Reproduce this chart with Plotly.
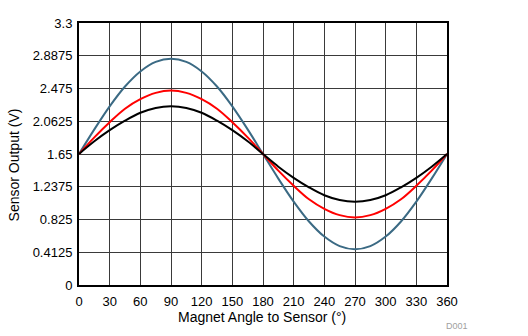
import plotly.graph_objects as go

angles = [0, 15, 30, 45, 60, 75, 90, 105, 120, 135, 150, 165, 180,
          195, 210, 225, 240, 255, 270, 285, 300, 315, 330, 345, 360]
blue_vals = [1.65, 1.96, 2.25, 2.50, 2.69, 2.81, 2.85, 2.81, 2.69, 2.50, 2.25, 1.96, 1.65,
             1.34, 1.05, 0.80, 0.61, 0.49, 0.45, 0.49, 0.61, 0.80, 1.05, 1.34, 1.65]
red_vals = [1.65, 1.86, 2.05, 2.22, 2.34, 2.42, 2.45, 2.42, 2.34, 2.22, 2.05, 1.86, 1.65,
            1.44, 1.25, 1.08, 0.96, 0.88, 0.85, 0.88, 0.96, 1.08, 1.25, 1.44, 1.65]
black_vals = [1.65, 1.81, 1.95, 2.07, 2.17, 2.23, 2.25, 2.23, 2.17, 2.07, 1.95, 1.81, 1.65,
              1.49, 1.35, 1.23, 1.13, 1.07, 1.05, 1.07, 1.13, 1.23, 1.35, 1.49, 1.65]
x_ticks = list(range(0, 361, 30))
y_ticks = [0, 0.4125, 0.825, 1.2375, 1.65, 2.0625, 2.475, 2.8875, 3.3]
y_tick_labels = ["0", "0.4125", "0.825", "1.2375", "1.65", "2.0625", "2.475", "2.8875", "3.3"]

fig = go.Figure()
for vals, col in [(blue_vals, "#3b6a84"), (red_vals, "#ff0000"), (black_vals, "#000000")]:
    fig.add_trace(go.Scatter(x=angles, y=vals, mode="lines",
                             line=dict(color=col, width=2, shape="spline"),
                             showlegend=False))

fam = "Liberation Sans, Arial, sans-serif"
tick_font = dict(family=fam, size=13, color="#000000")
title_font = dict(family=fam, size=14, color="#000000")
fig.update_layout(
    width=528, height=336,
    margin=dict(l=79, r=81, t=23, b=51),
    paper_bgcolor="white", plot_bgcolor="white",
    font=tick_font,
    xaxis=dict(range=[0, 360], tickvals=x_ticks, ticktext=[str(t) for t in x_ticks],
               showgrid=True, gridcolor="#3a3a3a", gridwidth=1,
               showline=True, linecolor="black", linewidth=2, mirror=True,
               ticks="", zeroline=False, tickfont=tick_font, ticklabelstandoff=3),
    yaxis=dict(range=[0, 3.3], tickvals=y_ticks, ticktext=y_tick_labels,
               showgrid=True, gridcolor="#3a3a3a", gridwidth=1,
               showline=True, linecolor="black", linewidth=2, mirror=True,
               ticks="", zeroline=False, tickfont=tick_font, ticklabelstandoff=2),
    annotations=[
        dict(text="Magnet Angle to Sensor (°)", xref="paper", yref="paper",
             x=0.497, y=-0.123, xanchor="center", yanchor="middle", showarrow=False,
             font=title_font),
        dict(text="Sensor Output (V)", xref="paper", yref="paper", textangle=-90,
             x=-0.174, y=0.46, xanchor="center", yanchor="middle", showarrow=False,
             font=title_font),
        dict(text="D001", xref="paper", yref="paper", x=0.992, y=-0.13,
             xanchor="left", yanchor="top", showarrow=False,
             font=dict(family=fam, size=9, color="#a0a0a0")),
    ]
)

fig.write_html("out.html")
